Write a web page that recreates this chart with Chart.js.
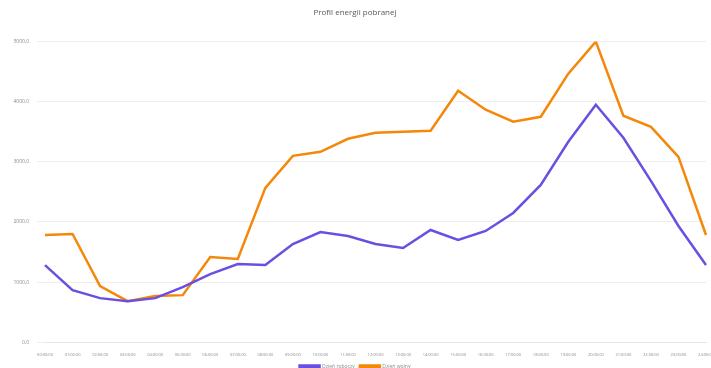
<!DOCTYPE html>
<html>
<head>
<meta charset="utf-8">
<script src="https://cdn.jsdelivr.net/npm/chart.js@4/dist/chart.umd.min.js"></script>
<style>
  html, body { margin: 0; padding: 0; background: #ffffff; }
  #wrap { width: 711px; height: 368px; }
</style>
</head>
<body>
<div id="wrap"><canvas id="profilChart" width="711" height="368"></canvas></div>
<script>
// Godziny doby (etykiety osi X)
const godziny = ['00:00:00', '01:00:00', '02:00:00', '03:00:00', '04:00:00', '05:00:00', '06:00:00',
    '07:00:00', '08:00:00', '09:00:00', '10:00:00', '11:00:00', '12:00:00', '13:00:00', '14:00:00',
    '15:00:00', '16:00:00', '17:00:00', '18:00:00', '19:00:00', '20:00:00', '21:00:00', '22:00:00',
    '23:00:00', '24:00:00'];

// Pobór energii - dzień roboczy
const dzienRoboczy = [1283, 867, 733, 683, 733, 917, 1133, 1300, 1283, 1633, 1833, 1767, 1633,
    1567, 1867, 1700, 1850, 2150, 2617, 3333, 3950, 3400, 2683, 1933, 1283];

// Pobór energii - dzień wolny
const dzienWolny = [1783, 1800, 933, 683, 767, 783, 1417, 1383, 2567, 3100, 3167, 3383, 3483,
    3500, 3517, 4183, 3867, 3667, 3750, 4467, 5000, 3767, 3583, 3083, 1783];

// Podziałka osi Y
const osY = [0, 1000, 2000, 3000, 4000, 5000];

const ctx = document.getElementById('profilChart').getContext('2d');

new Chart(ctx, {
    type: 'line',
    data: {
        labels: godziny,
        datasets: [
            {
                label: 'Dzień roboczy',
                data: dzienRoboczy,
                borderColor: '#6a4fe0',
                backgroundColor: '#6a4fe0',
                borderWidth: 2.5,
                pointRadius: 0,
                tension: 0,
            },
            {
                label: 'Dzień wolny',
                data: dzienWolny,
                borderColor: '#f5870a',
                backgroundColor: '#f5870a',
                borderWidth: 2.5,
                pointRadius: 0,
                tension: 0,
            },
        ],
    },
    options: {
        responsive: false,
        animation: false,
        layout: { padding: { left: 4, right: 5, top: 0, bottom: -11 } },
        plugins: {
            title: {
                display: true,
                text: 'Profil energii pobranej',
                color: '#595959',
                font: { family: 'Open Sans', size: 8, weight: 'normal' },
                padding: { top: 8, bottom: 24 },
            },
            legend: {
                position: 'bottom',
                labels: {
                    boxWidth: 20,
                    boxHeight: 2,
                    color: '#8a8a8a',
                    font: { family: 'Open Sans', size: 5 },
                    padding: 5,
                },
            },
        },
        scales: {
            x: {
                offset: false,
                grid: { display: false },
                border: { color: '#e6e6e6' },
                afterFit: (scale) => { scale.paddingRight = 0; scale.paddingLeft = 0; },
                ticks: {
                    color: '#8a8a8a',
                    font: { family: 'Open Sans', size: 4 },
                    maxRotation: 0,
                    autoSkip: false,
                    padding: 2,
                },
            },
            y: {
                min: 0,
                max: 5000,
                afterBuildTicks: (scale) => { scale.ticks = osY.map(v => ({ value: v })); },
                afterFit: (scale) => { scale.width = 41; },
                grid: { color: '#eeeeee' },
                border: { display: false },
                ticks: {
                    color: '#8a8a8a',
                    font: { family: 'Open Sans', size: 5 },
                    padding: 8,
                    callback: (v) => v.toFixed(1).replace('.', ','),
                },
            },
        },
    },
});
</script>
</body>
</html>
